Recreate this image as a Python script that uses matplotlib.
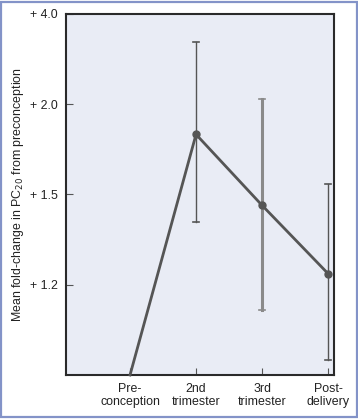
import numpy as np
import matplotlib.pyplot as plt
from matplotlib.patches import Rectangle

plt.rcParams["font.family"] = ["Liberation Sans", "DejaVu Sans"]

# ordinal fold-change axis: tick values sit at equal distances
scale_vals = [1.0, 1.2, 1.5, 2.0, 4.0]
tick_vals = [1.2, 1.5, 2.0, 4.0]
tick_labels = ["+ 1.2", "+ 1.5", "+ 2.0", "+ 4.0"]

periods = ["Pre-\nconception", "2nd\ntrimester", "3rd\ntrimester", "Post-\ndelivery"]
fold_mean = [1.0, 1.833, 1.464, 1.237]
err_low = [None, 1.41, 1.144, 1.034]
err_high = [None, 3.38, 2.11, 1.56]
bar_colors = [None, "#555555", "#8a8a8a", "#555555"]
bar_widths = [None, 1.0, 2.2, 1.0]

pos = np.arange(len(scale_vals))


def forward(v):
    return np.interp(v, scale_vals, pos, left=-1, right=5)


def inverse(p):
    return np.interp(p, pos, scale_vals)


fig = plt.figure(figsize=(3.58, 4.19), dpi=100)
ax = fig.add_axes([66 / 358, 1 - 375 / 419, 268 / 358, 361 / 419])
ax.set_facecolor("#e9ecf5")
ax.set_yscale("function", functions=(forward, inverse))
ax.set_ylim(1.0, 4.0)
ax.set_xlim(-0.97, 3.09)

x = np.arange(len(periods))
for i in range(1, len(periods)):
    ax.plot([x[i], x[i]], [err_low[i], err_high[i]], color=bar_colors[i],
            lw=bar_widths[i], zorder=2)
    ax.plot([x[i] - 0.04, x[i] + 0.04], [err_low[i]] * 2, color=bar_colors[i], lw=1.2, zorder=2)
    ax.plot([x[i] - 0.04, x[i] + 0.04], [err_high[i]] * 2, color=bar_colors[i], lw=1.2, zorder=2)

ax.plot(x, fold_mean, color="#555555", lw=2, marker="o", markersize=5,
        markevery=[1, 2, 3], zorder=3, clip_on=False)

ax.set_yticks(tick_vals)
ax.set_yticklabels(tick_labels)
ax.yaxis.set_minor_locator(plt.NullLocator())
ax.set_xticks(x)
ax.set_xticklabels(periods, linespacing=1.05)
ax.tick_params(direction="in", length=5, width=0.8, color="#555555",
               labelsize=8.9, labelcolor="#222222", pad=6)
ax.tick_params(axis="y", pad=6)

for s in ax.spines.values():
    s.set_linewidth(1.5)
    s.set_color("#2a2a2a")

ax.set_ylabel("Mean fold-change in PC$_{20}$ from preconception", fontsize=8.9,
              color="#222222", labelpad=3)

fig.patches.append(Rectangle((0.004, 0.004), 0.992, 0.992, transform=fig.transFigure,
                             fill=False, edgecolor="#8393c8", lw=1.6))

fig.savefig("out.png", dpi=100)
